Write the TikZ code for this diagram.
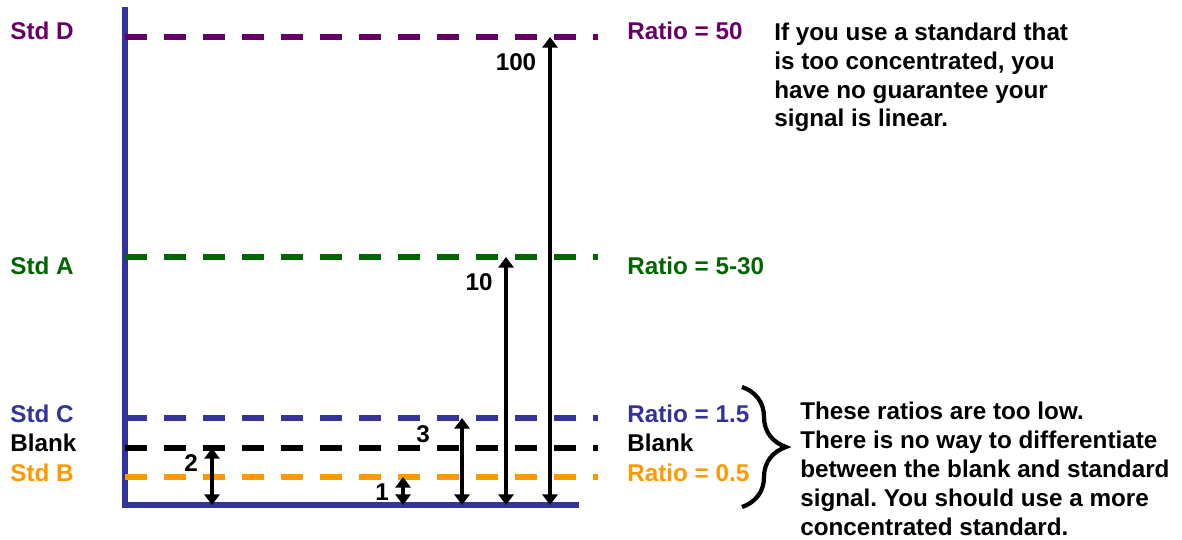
\documentclass[tikz,border=0pt]{standalone}
\usepackage{fontspec}
\setmainfont{Liberation Sans}
\usetikzlibrary{arrows.meta,decorations.pathreplacing}
\definecolor{stdD}{RGB}{102,0,102}
\definecolor{stdA}{RGB}{0,102,0}
\definecolor{stdC}{RGB}{51,51,153}
\definecolor{stdB}{RGB}{255,153,0}
\frenchspacing
\tikzset{
    every node/.append style={font=\fontsize{13.8pt}{16.5pt}\selectfont\bfseries,inner sep=0pt},
    axis/.style={draw=stdC,line width=3pt},
    level/.style={line width=3pt,dash pattern=on 12.5pt off 9.7pt},
    dim/.style={{Triangle[length=6pt,width=8.5pt]}-{Triangle[length=6pt,width=8.5pt]},line width=2pt},
    lbl/.style={anchor=base west},
    num/.style={anchor=center},
    brc/.style={decorate,decoration={brace,amplitude=0.88cm},line width=2.4pt}
}
\begin{document}
\begin{tikzpicture}[x=0.02cm,y=-0.02cm]
    \useasboundingbox (0,0) rectangle (1182,540);
    % axes
    \coordinate (top) at (125,7);
    \coordinate (o)   at (125,505);
    \coordinate (end) at (579,505);
    \draw[axis] (top) -- (o) -- (end);
    % signal levels
    \coordinate (sD) at (125,37);
    \coordinate (sA) at (125,257);
    \coordinate (sC) at (125,418);
    \coordinate (bk) at (125,448);
    \coordinate (sB) at (125,477);
    \draw[level,stdD]  (sD) -- ++(473,0);
    \draw[level,stdA]  (sA) -- ++(473,0);
    \draw[level,stdC]  (sC) -- ++(473,0);
    \draw[level,black] (bk) -- ++(473,0);
    \draw[level,stdB]  (sB) -- ++(473,0);
    % left labels
    \node[lbl,text=stdD] (lD) at (10,40)  {Std D};
    \node[lbl,text=stdA] (lA) at (10,275) {Std A};
    \node[lbl,text=stdC] (lC) at (10,422) {Std C};
    \node[lbl]           (lK) at (10,451) {Blank};
    \node[lbl,text=stdB] (lB) at (10,481) {Std B};
    % ratios
    \node[lbl,text=stdD] (rD) at (627,40)  {Ratio = 50};
    \node[lbl,text=stdA] (rA) at (627,275) {Ratio = 5-30};
    \node[lbl,text=stdC] (rC) at (627,422) {Ratio = 1.5};
    \node[lbl]           (rK) at (627,451) {Blank};
    \node[lbl,text=stdB] (rB) at (627,481) {Ratio = 0.5};
    % arrows
    \coordinate (a2)   at (212,505);
    \coordinate (a1)   at (403,505);
    \coordinate (a3)   at (462,505);
    \coordinate (a10)  at (506,505);
    \coordinate (a100) at (550,505);
    \draw[dim] (a2)   -- (a2 |- bk);
    \draw[dim] (a1)   -- (a1 |- sB);
    \draw[dim] (a3)   -- (a3 |- sC);
    \draw[dim] (a10)  -- (a10 |- sA);
    \draw[dim] (a100) -- (a100 |- sD);
    \node[num] (n2)   at (191,463) {2};
    \node[num] (n1)   at (382,492) {1};
    \node[num] (n3)   at (423,434) {3};
    \node[num] (n10)  at (479,282) {10};
    \node[num] (n100) at (516,62)  {100};
    % brace
    \coordinate (brTop) at (742,387);
    \coordinate (brBot) at (742,507);
    \draw[brc] (brTop) -- (brBot);
    % comments (base = last line)
    \node[lbl,align=left] (high) at (774,127)
        {If you use a standard that\\is too concentrated, you\\have no guarantee your\\signal is linear.};
    \node[lbl,align=left] (low) at (800,535)
        {These ratios are too low.\\There is no way to differentiate\\between the blank and standard\\signal. You should use a more\\concentrated standard.};
\end{tikzpicture}
\end{document}
